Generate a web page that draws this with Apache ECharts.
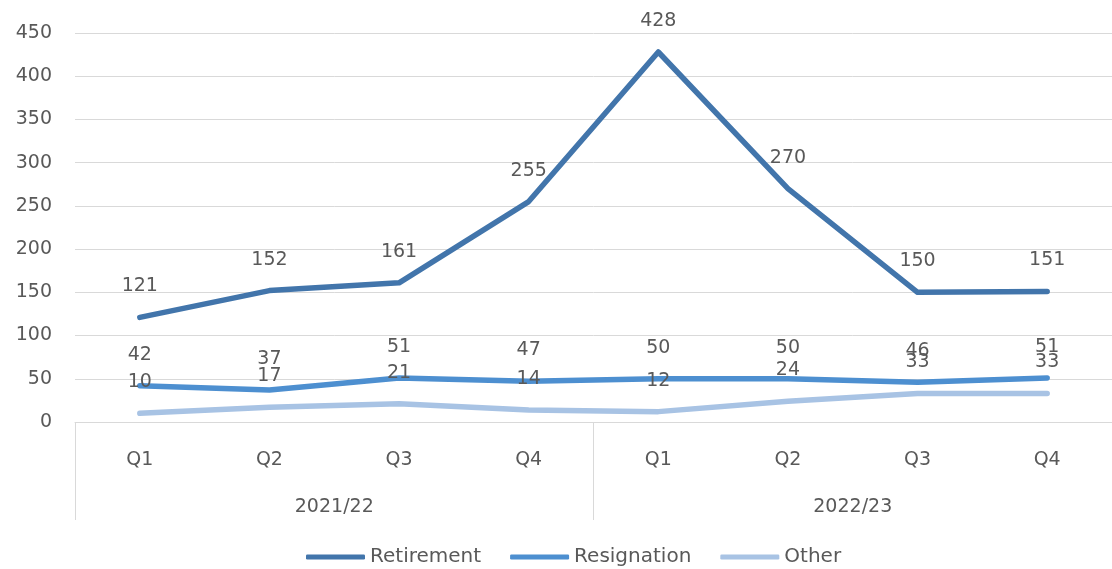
<!DOCTYPE html>
<html>
<head>
<meta charset="UTF-8">
<title></title>
<script src="https://cdn.jsdelivr.net/npm/echarts@6/dist/echarts.min.js"></script>
<style>
  html, body { margin: 0; padding: 0; background: #fff; }
  #main { width: 1112px; height: 569px; }
</style>
</head>
<body>
<div id="main"></div>
<script>
var quarters = ['Q1', 'Q2', 'Q3', 'Q4', 'Q1', 'Q2', 'Q3', 'Q4'];
var years = ['2021/22', '2022/23'];
var retirement = [121, 152, 161, 255, 428, 270, 150, 151];
var resignation = [42, 37, 51, 47, 50, 50, 46, 51];
var other = [10, 17, 21, 14, 12, 24, 33, 33];

var font = 'DejaVu Sans';
var chart = echarts.init(document.getElementById('main'));

// labels need a symbol to hang on, so keep a tiny one in the line colour
function line(name, data, color) {
    return {
        name: name,
        type: 'line',
        data: data,
        symbol: 'circle',
        symbolSize: 1,
        showSymbol: true,
        lineStyle: { width: 5.5, color: color, cap: 'round', join: 'round' },
        itemStyle: { color: color },
        label: {
            show: true,
            position: 'top',
            distance: 21,
            color: '#595959',
            fontSize: 19,
            fontFamily: font
        },
        labelLayout: { hideOverlap: false }
    };
}

chart.setOption({
    animation: false,
    grid: { left: 75, right: -3, top: 33, bottom: 147 },
    legend: {
        bottom: -3,
        left: 301,
        itemWidth: 59,
        itemHeight: 5,
        itemGap: 29,
        icon: 'roundRect',
        textStyle: { color: '#595959', fontSize: 20, fontFamily: font },
        data: ['Retirement', 'Resignation', 'Other']
    },
    xAxis: [{
        type: 'category',
        data: quarters,
        axisLine: { lineStyle: { color: '#d9d9d9', width: 1 } },
        axisTick: { show: false },
        axisLabel: { color: '#595959', fontSize: 19, fontFamily: font, margin: 29 }
    }, {
        type: 'category',
        data: years,
        position: 'bottom',
        axisLine: { show: false },
        axisTick: { show: true, length: 98, lineStyle: { color: '#d9d9d9' } },
        axisLabel: { color: '#595959', fontSize: 19, fontFamily: font, margin: 76 },
        splitLine: { show: false }
    }],
    yAxis: {
        type: 'value',
        min: 0,
        max: 450,
        interval: 50,
        axisLine: { show: false },
        axisTick: { show: false },
        axisLabel: { color: '#595959', fontSize: 19, fontFamily: font, margin: 23 },
        splitLine: { lineStyle: { color: '#d9d9d9' } }
    },
    series: [
        line('Retirement', retirement, '#4275ab'),
        line('Resignation', resignation, '#4d8fd0'),
        line('Other', other, '#a8c3e4')
    ]
});
</script>
</body>
</html>
